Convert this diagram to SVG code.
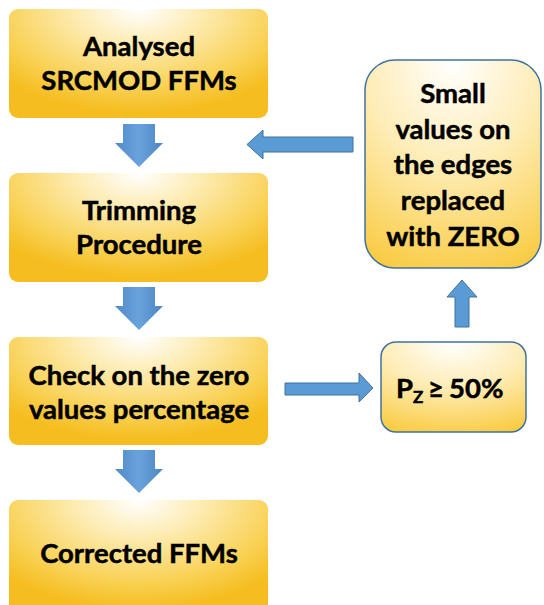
<svg xmlns="http://www.w3.org/2000/svg" width="544" height="605" viewBox="0 0 544 605">
<defs>
<radialGradient id="gold" cx="0.5" cy="0" r="0.95" fx="0.5" fy="0" gradientTransform="translate(0.5 0) scale(0.75 1) translate(-0.5 0)">
<stop offset="0" stop-color="#FFFFFF"/>
<stop offset="0.35" stop-color="#FDEBB0"/>
<stop offset="0.75" stop-color="#F9D154"/>
<stop offset="1" stop-color="#F5BD1F"/>
</radialGradient>
<radialGradient id="gold2" cx="0.5" cy="0" r="1.1" fx="0.5" fy="0">
<stop offset="0" stop-color="#FFFFFF"/>
<stop offset="0.45" stop-color="#FEEDB8"/>
<stop offset="1" stop-color="#F9C93A"/>
</radialGradient>
<linearGradient id="blueDown" x1="0" y1="0" x2="1" y2="0">
<stop offset="0" stop-color="#4F89C8"/>
<stop offset="0.5" stop-color="#6AA3DC"/>
<stop offset="1" stop-color="#4A84C3"/>
</linearGradient>
<style>
.t{font-family:Lato,"Liberation Sans",sans-serif;font-weight:bold;font-size:27.5px;fill:#000;stroke:#000;stroke-width:0.5;text-anchor:middle}
.lb{fill:url(#gold)}
.rb{fill:url(#gold2);stroke:#41719C;stroke-width:1.5}
.da{fill:url(#blueDown)}
.ba{fill:#5B9BD5;stroke:#41719C;stroke-width:1}
</style>
</defs>
<g id="node-analysed">
<rect class="lb" x="9" y="9" width="259" height="109" rx="9"/>
<text class="t" x="139" y="56">Analysed</text>
<text class="t" x="139" y="90">SRCMOD FFMs</text>
</g>
<g id="node-trimming">
<rect class="lb" x="9" y="173" width="259" height="109" rx="9"/>
<text class="t" x="139" y="220">Trimming</text>
<text class="t" x="139" y="254">Procedure</text>
</g>
<g id="node-check">
<rect class="lb" x="9" y="337" width="259" height="108" rx="9"/>
<text class="t" x="139" y="385">Check on the zero</text>
<text class="t" x="139" y="419">values percentage</text>
</g>
<g id="node-corrected">
<rect class="lb" x="9" y="500" width="259" height="115" rx="9"/>
<text class="t" x="139" y="563">Corrected FFMs</text>
</g>
<g id="node-small">
<rect class="rb" x="365" y="60" width="176" height="208" rx="30"/>
<text class="t" x="453" y="103">Small</text>
<text class="t" x="453" y="139">values on</text>
<text class="t" x="453" y="174">the edges</text>
<text class="t" x="453" y="210">replaced</text>
<text class="t" x="453" y="246">with ZERO</text>
</g>
<g id="node-pz">
<rect class="rb" x="381" y="342" width="145" height="90" rx="15"/>
<text class="t" x="396" y="398" style="text-anchor:start">P<tspan font-size="17" dy="5">Z</tspan><tspan x="428" dy="-5">≥</tspan><tspan x="449">50%</tspan></text>
</g>
<g id="connectors">
<path class="da" d="M123,124 H155 V143 H163 L139,167 L115,143 H123 Z"/>
<path class="da" d="M123,287 H155 V306 H163 L139,330 L115,306 H123 Z"/>
<path class="da" d="M123,450 H155 V469 H163 L139,493 L115,469 H123 Z"/>
<path class="ba" d="M353,137 V152 H263 V159 L247,144.5 L263,130 V137 Z"/>
<path class="ba" d="M455,327 V297 H447 L462,280 L477,297 H469 V327 Z"/>
<path class="ba" d="M285,383 H359 V373 L373,388 L359,402 V395 H285 Z"/>
</g>
</svg>
